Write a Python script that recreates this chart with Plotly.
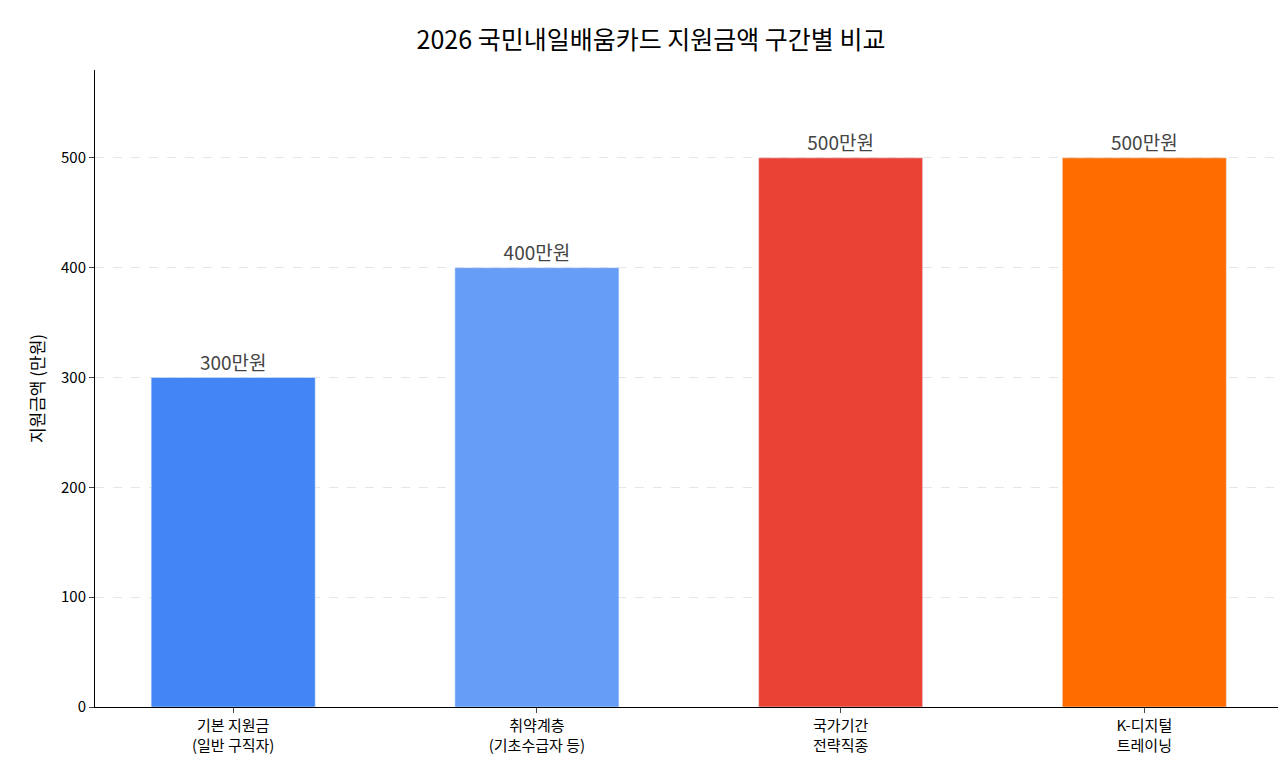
import plotly.graph_objects as go

categories = ['기본 지원금<br>(일반 구직자)', '취약계층<br>(기초수급자 등)', '국가기간<br>전략직종', 'K-디지털<br>트레이닝']
amounts = [300, 400, 500, 500]
labels = ['300만원', '400만원', '500만원', '500만원']
colors = ['#4285F4', '#669DF6', '#EA4335', '#FF6D00']

font = 'Noto Sans CJK KR'

fig = go.Figure(go.Bar(x=list(range(len(categories))), y=amounts, width=0.54,
                       marker_color=colors, text=labels, textposition='outside',
                       textfont=dict(size=19, color='#444444'), cliponaxis=False))

fig.update_layout(
    width=1286, height=767, plot_bgcolor='white', paper_bgcolor='white',
    font=dict(family=font, color='black'),
    title=dict(text='2026 국민내일배움카드 지원금액 구간별 비교', x=0.5, y=0.97,
               font=dict(size=25, color='black')),
    margin=dict(l=87, r=13, t=62, b=68),
    showlegend=False,
)
fig.update_xaxes(range=[-0.455, 3.45], tickvals=list(range(len(categories))), ticktext=categories,
                 showline=True, linecolor='black', ticks='outside', ticklen=5,
                 tickfont=dict(size=15), showgrid=False)
fig.update_yaxes(range=[0, 580], dtick=100, showline=True, linecolor='black', ticks='outside',
                 ticklen=5, tickfont=dict(size=15), showgrid=True, gridcolor='#e6e6e6',
                 griddash='dash', zeroline=False,
                 title=dict(text='지원금액 (만원)', font=dict(size=17), standoff=12))

fig.write_html('out.html')
